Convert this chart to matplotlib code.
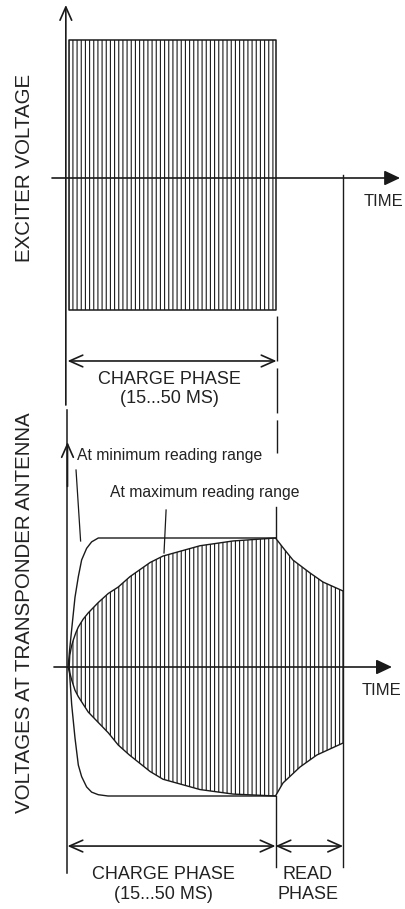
import matplotlib
matplotlib.use("Agg")
import matplotlib.pyplot as plt

plt.rcParams['font.family'] = ['Liberation Sans', 'DejaVu Sans']
plt.rcParams['hatch.linewidth'] = 0.8

# ---------------- data (time in % of charge phase, voltage normalised) ----------
charge_end = 100.0
read_end = 132.5

# exciter voltage: constant-amplitude carrier during charge phase
exciter_t = [0.5, 100.0]
exciter_high = [1.0, 1.0]
exciter_low = [-0.957, -0.957]

# envelope at minimum reading range (upper / lower)
min_t = [0.3, 1.0, 2.0, 3.6, 5.2, 6.8, 9.2, 11.6, 14.8, 19.5, 100.0]
min_upper = [0.0, 0.13, 0.29, 0.54, 0.70, 0.83, 0.92, 0.97, 1.0, 1.0, 1.0]
min_lower = [0.0, -0.05, -0.29, -0.55, -0.76, -0.85, -0.93, -0.97, -0.99, -1.0, -1.0]

# envelope at maximum reading range (charge + read phase)
max_upper_t = [0.8, 1.1, 1.9, 2.8, 4.0, 5.2, 7.5, 10.0, 14.8, 19.6, 24.4, 30.0, 39.7, 45.9,
               63.7, 79.6, 100.0, 104.1, 108.4, 116.6, 122.8, 132.5]
max_upper_v = [0.0, 0.09, 0.16, 0.21, 0.265, 0.31, 0.37, 0.42, 0.50, 0.57, 0.62, 0.70, 0.81,
               0.86, 0.94, 0.977, 1.0, 0.915, 0.829, 0.729, 0.659, 0.589]
max_lower_t = [0.8, 1.2, 2.0, 3.6, 5.2, 6.8, 10.0, 14.8, 19.6, 24.4, 29.6, 39.7, 45.9, 63.7,
               79.6, 100.0, 103.6, 111.8, 119.9, 132.5]
max_lower_v = [0.0, -0.05, -0.10, -0.18, -0.23, -0.27, -0.35, -0.43, -0.51, -0.605, -0.68,
               -0.81, -0.87, -0.95, -0.985, -1.0, -0.899, -0.775, -0.682, -0.589]

# ---------------- figure ----------------
W, H = 406, 909
fig = plt.figure(figsize=(W / 100, H / 100), dpi=100)
LC = '#1a1a1a'
TC = '#222222'

xlim = (-67.5 / 2.08, (W - 67.5) / 2.08)
ax1 = fig.add_axes([0, (H - 420) / H, 1, 420 / H])
ax2 = fig.add_axes([0, 0, 1, (H - 420) / H])
ax1.set_xlim(*xlim)
ax1.set_ylim((178 - 420) / 138, 178 / 138)
ax2.set_xlim(*xlim)
ax2.set_ylim((667 - 909) / 129, (667 - 420) / 129)
for a in (ax1, ax2):
    a.axis('off')


def arrow(ax, p0, p1, style, lw=1.2):
    ax.annotate('', xy=p1, xytext=p0, annotation_clip=False,
                arrowprops=dict(arrowstyle=style, lw=lw, color=LC, shrinkA=0, shrinkB=0,
                                mutation_scale=10))


OPEN = '->,head_length=0.95,head_width=0.42'
BOTH = '<->,head_length=0.95,head_width=0.42'
FILLED = '-|>,head_length=0.95,head_width=0.45'

# ---- top panel ----
arrow(ax1, (-0.8, -1.645), (-0.8, 1.254), OPEN)
arrow(ax1, (-7.45, 0), (159.9, 0), FILLED)
ax1.text(151.7, -0.167, 'TIME', fontsize=12, color=TC, ha='center', va='center')
ax1.text(-20.7, 0.072, 'EXCITER VOLTAGE', fontsize=14.8, color=TC, rotation=90,
         ha='center', va='center')

ax1.fill_between(exciter_t, exciter_low, exciter_high, facecolor='none', edgecolor=LC,
                 hatch='||||', lw=1.1)

ax1.plot([100.5, 100.5], [-1.0, -1.993], color=LC, lw=1.0, ls=(0, (32.4, 5.0)),
         clip_on=False)
arrow(ax1, (0, -1.326), (100.5, -1.326), BOTH)
ax1.text(48.9, -1.457, 'CHARGE PHASE', fontsize=13, color=TC, ha='center', va='center')
ax1.text(48.9, -1.601, '(15...50 MS)', fontsize=13, color=TC, ha='center', va='center')

# ---- bottom panel ----
ax2.plot([0, 0], [1.992, -1.597], color=LC, lw=1.1, clip_on=False)
arrow(ax2, (0, 1.4), (0, 1.744), OPEN)
arrow(ax2, (-6.5, 0), (156.0, 0), FILLED)
ax2.text(151.2, -0.186, 'TIME', fontsize=12, color=TC, ha='center', va='center')
ax2.text(-20.7, (667 - 613) / 129, 'VOLTAGES AT TRANSPONDER ANTENNA', fontsize=14.8,
         color=TC, rotation=90, ha='center', va='center')

poly_t = max_upper_t + max_lower_t[::-1]
poly_v = max_upper_v + max_lower_v[::-1]
ax2.fill(poly_t, poly_v, facecolor='none', edgecolor=LC, hatch='||||', lw=1.0)

ax2.plot(min_t, min_upper, color=LC, lw=1.0)
ax2.plot(min_t, min_lower, color=LC, lw=1.0)

# markers of phases
ax2.plot([charge_end, charge_end], [1.24, 1.0], color=LC, lw=1.0)
ax2.plot([charge_end, charge_end], [-1.0, -1.55], color=LC, lw=1.0)
ax2.plot([read_end, read_end], [3.814, -1.55], color=LC, lw=1.0, clip_on=False)

arrow(ax2, (0, -1.388), (charge_end, -1.388), BOTH)
arrow(ax2, (charge_end, -1.388), (read_end, -1.388), BOTH)
ax2.text(45.9, -1.612, 'CHARGE PHASE', fontsize=13, color=TC, ha='center', va='center')
ax2.text(45.9, -1.767, '(15...50 MS)', fontsize=13, color=TC, ha='center', va='center')
ax2.text(115.5, -1.612, 'READ', fontsize=13, color=TC, ha='center', va='center')
ax2.text(115.5, -1.767, 'PHASE', fontsize=13, color=TC, ha='center', va='center')

# annotations
ax2.text(4.6, 1.643, 'At minimum reading range', fontsize=11.3, color=TC, ha='left',
         va='center')
ax2.plot([4.1, 6.3], [1.527, 0.977], color=LC, lw=0.9)
ax2.text(20.4, 1.349, 'At maximum reading range', fontsize=11.3, color=TC, ha='left',
         va='center')
ax2.plot([47.4, 46.4], [1.217, 0.884], color=LC, lw=0.9)

fig.savefig('out.png', dpi=100)
